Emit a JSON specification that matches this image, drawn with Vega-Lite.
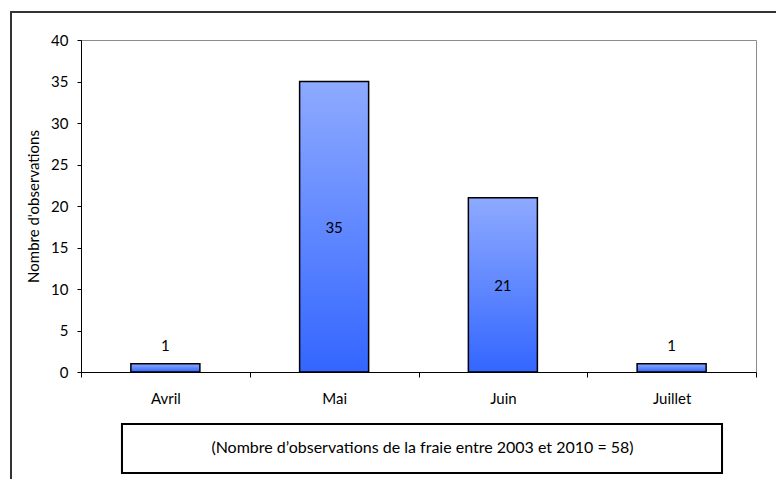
{
  "$schema": "https://vega.github.io/schema/vega-lite/v6.json",
  "width": 675,
  "height": 332,
  "autosize": {"type": "none"},
  "padding": {"left": 81, "top": 40, "right": 20, "bottom": 107},
  "background": "white",
  "config": {
    "font": "Lato",
    "view": {"stroke": "#8C8C8C", "strokeWidth": 1},
    "axis": {
      "grid": false,
      "domainColor": "black",
      "tickColor": "black",
      "labelColor": "black",
      "titleColor": "black",
      "labelFont": "Lato",
      "titleFont": "Lato",
      "labelFontSize": 15,
      "titleFontSize": 15,
      "titleFontWeight": "normal"
    }
  },
  "data": {
    "values": [
      {"mois": "Avril", "observations": 1},
      {"mois": "Mai", "observations": 35},
      {"mois": "Juin", "observations": 21},
      {"mois": "Juillet", "observations": 1}
    ]
  },
  "resolve": {"scale": {"x": "independent", "y": "independent"}},
  "layer": [
    {
      "layer": [
        {
          "mark": {"type": "rect", "filled": false, "color": "#333333", "strokeWidth": 1.5, "clip": false},
          "encoding": {
            "x": {"datum": "Avril", "type": "nominal", "bandPosition": -1.737, "axis": null,
                  "scale": {"domain": ["Avril", "Mai", "Juin", "Juillet"], "paddingInner": 0.591, "paddingOuter": 0.2955}},
            "x2": {"datum": "Juillet", "bandPosition": 2.36},
            "y": {"datum": 43.373, "type": "quantitative", "scale": {"domain": [0, 40], "nice": false}},
            "y2": {"datum": -15.42}
          }
        },
        {
          "mark": {"type": "rect", "filled": false, "color": "black", "strokeWidth": 2, "clip": false},
          "encoding": {
            "x": {"datum": "Avril", "type": "nominal", "bandPosition": -0.1286, "axis": null,
                  "scale": {"domain": ["Avril", "Mai", "Juin", "Juillet"], "paddingInner": 0.591, "paddingOuter": 0.2955}},
            "x2": {"datum": "Juillet", "bandPosition": 1.23},
            "y": {"datum": -6.265, "type": "quantitative", "scale": {"domain": [0, 40], "nice": false}},
            "y2": {"datum": -12.169}
          }
        },
        {
          "mark": {
            "type": "bar",
            "stroke": "black",
            "strokeWidth": 1.5,
            "color": {
              "gradient": "linear",
              "x1": 0, "y1": 0, "x2": 0, "y2": 1,
              "stops": [
                {"offset": 0, "color": "#8EAAFF"},
                {"offset": 1, "color": "#3366FF"}
              ]
            }
          },
          "encoding": {
            "x": {"field": "mois", "type": "nominal", "axis": null,
                  "scale": {"domain": ["Avril", "Mai", "Juin", "Juillet"], "paddingInner": 0.591, "paddingOuter": 0.2955}},
            "y": {"field": "observations", "type": "quantitative",
                  "scale": {"domain": [0, 40], "nice": false},
                  "title": "Nombre d'observations",
                  "axis": {
                    "values": [0, 5, 10, 15, 20, 25, 30, 35, 40],
                    "tickSize": 4,
                    "labelPadding": 9,
                    "title": "Nombre d'observations",
                    "titleX": -48,
                    "titleY": 166,
                    "titleAngle": 270,
                    "titleAlign": "center",
                    "titleBaseline": "middle"
                  }}
          }
        },
        {
          "transform": [{"filter": "datum.observations <= 5"}],
          "mark": {"type": "text", "baseline": "middle", "dy": -18, "fontSize": 15, "color": "black"},
          "encoding": {
            "x": {"field": "mois", "type": "nominal", "axis": null,
                  "scale": {"domain": ["Avril", "Mai", "Juin", "Juillet"], "paddingInner": 0.591, "paddingOuter": 0.2955}},
            "y": {"field": "observations", "type": "quantitative", "scale": {"domain": [0, 40], "nice": false}},
            "text": {"field": "observations", "type": "quantitative"}
          }
        }
      ]
    },
    {
      "transform": [{"filter": "datum.observations > 5"}],
      "mark": {"type": "text", "baseline": "middle", "dy": 1, "fontSize": 15, "color": "black"},
      "encoding": {
        "x": {"field": "mois", "type": "nominal",
              "scale": {"domain": ["Avril", "Mai", "Juin", "Juillet"], "paddingInner": 0, "paddingOuter": 0},
              "axis": {
                "tickBand": "extent",
                "tickSize": 5,
                "labelPadding": 14,
                "labelAngle": 0,
                "title": "(Nombre d’observations de la fraie entre 2003 et 2010 = 58)",
                "titleFontSize": 16,
                "titleX": 341,
                "titleY": 75,
                "titleAlign": "center",
                "titleBaseline": "middle"
              }},
        "y": {"field": "observations", "type": "quantitative", "axis": null, "scale": {"domain": [0, 80], "nice": false}},
        "text": {"field": "observations", "type": "quantitative"}
      }
    }
  ]
}
